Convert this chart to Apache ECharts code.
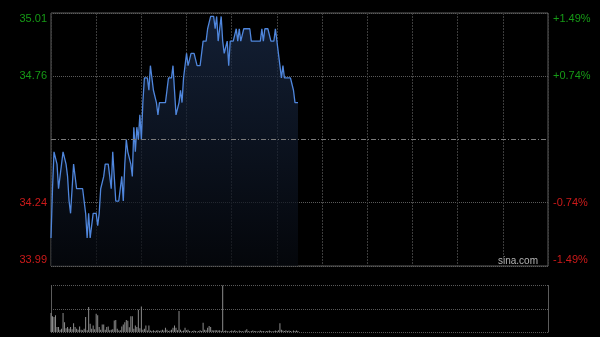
<!DOCTYPE html>
<html><head><meta charset="utf-8">
<script src="https://cdn.jsdelivr.net/npm/echarts@6/dist/echarts.min.js"></script>
<style>html,body{margin:0;padding:0;background:#000;}#c{width:600px;height:337px;}</style>
</head><body><div id="c"></div>
<script>
const prevClose = 34.50;
const axisMin = 33.986, axisMax = 35.014, axisStep = 0.257;
const sessionMinutes = 330;
const leftLabels = ['33.99', '34.24', '', '34.76', '35.01'];
const rightLabels = ['-1.49%', '-0.74%', '', '+0.74%', '+1.49%'];
const prices = [
34.10,34.30,34.45,34.45,34.40,34.30,34.35,34.40,34.45,34.45,
34.40,34.35,34.25,34.20,34.30,34.40,34.35,34.30,34.30,34.30,
34.30,34.30,34.30,34.20,34.10,34.20,34.10,34.15,34.20,34.20,
34.20,34.15,34.20,34.30,34.30,34.35,34.40,34.40,34.40,34.35,
34.30,34.45,34.35,34.25,34.25,34.25,34.25,34.35,34.25,34.40,
34.50,34.45,34.45,34.40,34.35,34.55,34.45,34.55,34.50,34.60,
34.50,34.65,34.75,34.75,34.75,34.70,34.80,34.75,34.70,34.70,
34.65,34.60,34.65,34.65,34.65,34.65,34.65,34.70,34.75,34.75,
34.75,34.80,34.70,34.60,34.60,34.65,34.70,34.65,34.75,34.80,
34.85,34.80,34.80,34.85,34.85,34.85,34.85,34.80,34.80,34.80,
34.80,34.90,34.90,34.90,34.95,34.95,35.00,35.00,35.00,34.95,
35.00,34.90,34.95,35.00,34.90,34.85,34.85,34.90,34.80,34.90,
34.90,34.90,34.90,34.95,34.90,34.95,34.90,34.90,34.95,34.95,
34.95,34.95,34.95,34.90,34.90,34.90,34.90,34.90,34.90,34.90,
34.95,34.90,34.95,34.95,34.95,34.95,34.90,34.90,34.90,34.95,
34.90,34.85,34.80,34.75,34.80,34.75,34.75,34.75,34.75,34.75,
34.75,34.70,34.65,34.65,34.65
];
const volumes = [
41,34,32,36,11,11,5,7,41,21,
8,11,7,11,6,19,11,7,5,12,
5,4,7,32,4,54,18,7,14,6,
39,36,11,5,16,16,5,11,12,4,
5,6,25,26,7,3,4,12,16,21,
26,24,10,34,34,7,14,11,48,8,
55,5,7,14,3,14,3,2,4,2,
3,4,2,3,5,3,9,5,2,3,
5,9,14,9,4,45,5,2,3,9,
4,5,2,1,2,3,2,1,2,4,
2,20,5,4,9,13,11,4,3,4,
4,3,4,2,100,2,3,2,1,2,
3,2,4,2,1,3,2,2,1,3,
6,2,1,2,3,2,2,1,2,3,
2,2,1,2,2,3,2,1,2,3,
2,4,19,5,3,2,4,2,3,2,
1,3,2,3,2
];

const priceData = prices.map((v, i) => [i, v]);
const volData = volumes.map((v, i) => [i, v]);
const font = '"Liberation Sans", Arial, sans-serif';
const green = '#169a16', red = '#cc1a1a';

function leftFmt(v, i) {
  const t = leftLabels[i];
  if (!t) return '';
  const c = i >= 3 ? 'g' : 'r';
  const p = i === 4 ? 'T' : (i === 0 ? 'B' : '');
  return '{' + c + p + '|' + t + '}';
}
function rightFmt(v, i) {
  const t = rightLabels[i];
  if (!t) return '';
  const c = i >= 3 ? 'g' : 'r';
  const p = i === 4 ? 'T' : (i === 0 ? 'B' : '');
  return '{' + c + p + '|' + t + '}';
}
const rich = {
  g: {color: green, fontSize: 11, fontFamily: font},
  r: {color: red, fontSize: 11, fontFamily: font},
  gT: {color: green, fontSize: 11, fontFamily: font, padding: [12, 0, 0, 0]},
  rT: {color: red, fontSize: 11, fontFamily: font, padding: [12, 0, 0, 0]},
  gB: {color: green, fontSize: 11, fontFamily: font, padding: [0, 0, 12, 0]},
  rB: {color: red, fontSize: 11, fontFamily: font, padding: [0, 0, 12, 0]}
};

const chart = echarts.init(document.getElementById('c'), null, {renderer: 'canvas'});
chart.setOption({
  backgroundColor: '#000',
  animation: false,
  grid: [
    {left: 51, right: 52, top: 13, height: 253, show: true, borderColor: '#5c5c5c', borderWidth: 1, backgroundColor: 'transparent'},
    {left: 51, right: 52, top: 285.5, height: 46.5, show: false}
  ],
  xAxis: [
    {type: 'value', gridIndex: 0, min: 0, max: sessionMinutes, interval: 30,
     axisLine: {show: false}, axisTick: {show: false}, axisLabel: {show: false},
     splitLine: {show: true, lineStyle: {color: '#3c3c3c', type: [2, 1], width: 1}}},
    {type: 'value', gridIndex: 1, min: 0, max: sessionMinutes, interval: 30,
     axisLine: {show: false}, axisTick: {show: false}, axisLabel: {show: false},
     splitLine: {show: false}}
  ],
  yAxis: [
    {type: 'value', gridIndex: 0, min: axisMin, max: axisMax, interval: axisStep, position: 'left',
     axisLine: {show: false}, axisTick: {show: false},
     axisLabel: {show: true, margin: 4, formatter: leftFmt, rich: rich},
     splitLine: {show: true, lineStyle: {color: ['#5c5c5c', '#5a5a5a', 'rgba(0,0,0,0)', '#5a5a5a', '#5c5c5c'], type: [1, 1], width: 1}}},
    {type: 'value', gridIndex: 0, min: axisMin, max: axisMax, interval: axisStep, position: 'right',
     axisLine: {show: false}, axisTick: {show: false},
     axisLabel: {show: true, margin: 5, formatter: rightFmt, rich: rich},
     splitLine: {show: false}},
    {type: 'value', gridIndex: 1, min: 0, max: 100, interval: 50, position: 'left',
     axisLine: {show: true, lineStyle: {color: '#5c5c5c', width: 1}}, axisTick: {show: false}, axisLabel: {show: false},
     splitLine: {show: true, lineStyle: {color: '#5a5a5a', type: [1, 1], width: 1}}},
    {type: 'value', gridIndex: 1, min: 0, max: 100, interval: 50, position: 'right',
     axisLine: {show: true, lineStyle: {color: '#5c5c5c', width: 1}}, axisTick: {show: false}, axisLabel: {show: false},
     splitLine: {show: false}}
  ],
  series: [
    {type: 'line', xAxisIndex: 0, yAxisIndex: 0, data: priceData, showSymbol: false, symbol: 'none',
     lineStyle: {color: '#4f86dc', width: 1.3},
     areaStyle: {origin: 'start', color: new echarts.graphic.LinearGradient(0, 0, 0, 1, [
       {offset: 0, color: '#1b2c4a'}, {offset: 1, color: '#06090f'}])},
     markLine: {silent: true, symbol: 'none', label: {show: false},
       lineStyle: {color: '#7a7a7a', type: [5, 2, 1, 2], width: 1},
       data: [{yAxis: prevClose}]}},
    {type: 'bar', xAxisIndex: 1, yAxisIndex: 2, data: volData, barWidth: 1,
     itemStyle: {color: '#8c8c8c'}}
  ],
  graphic: [
    {type: 'text', left: 498, top: 256, style: {text: 'sina.com', fill: '#b4b4b4', font: '10px ' + font}}
  ]
});
</script>
</body></html>
